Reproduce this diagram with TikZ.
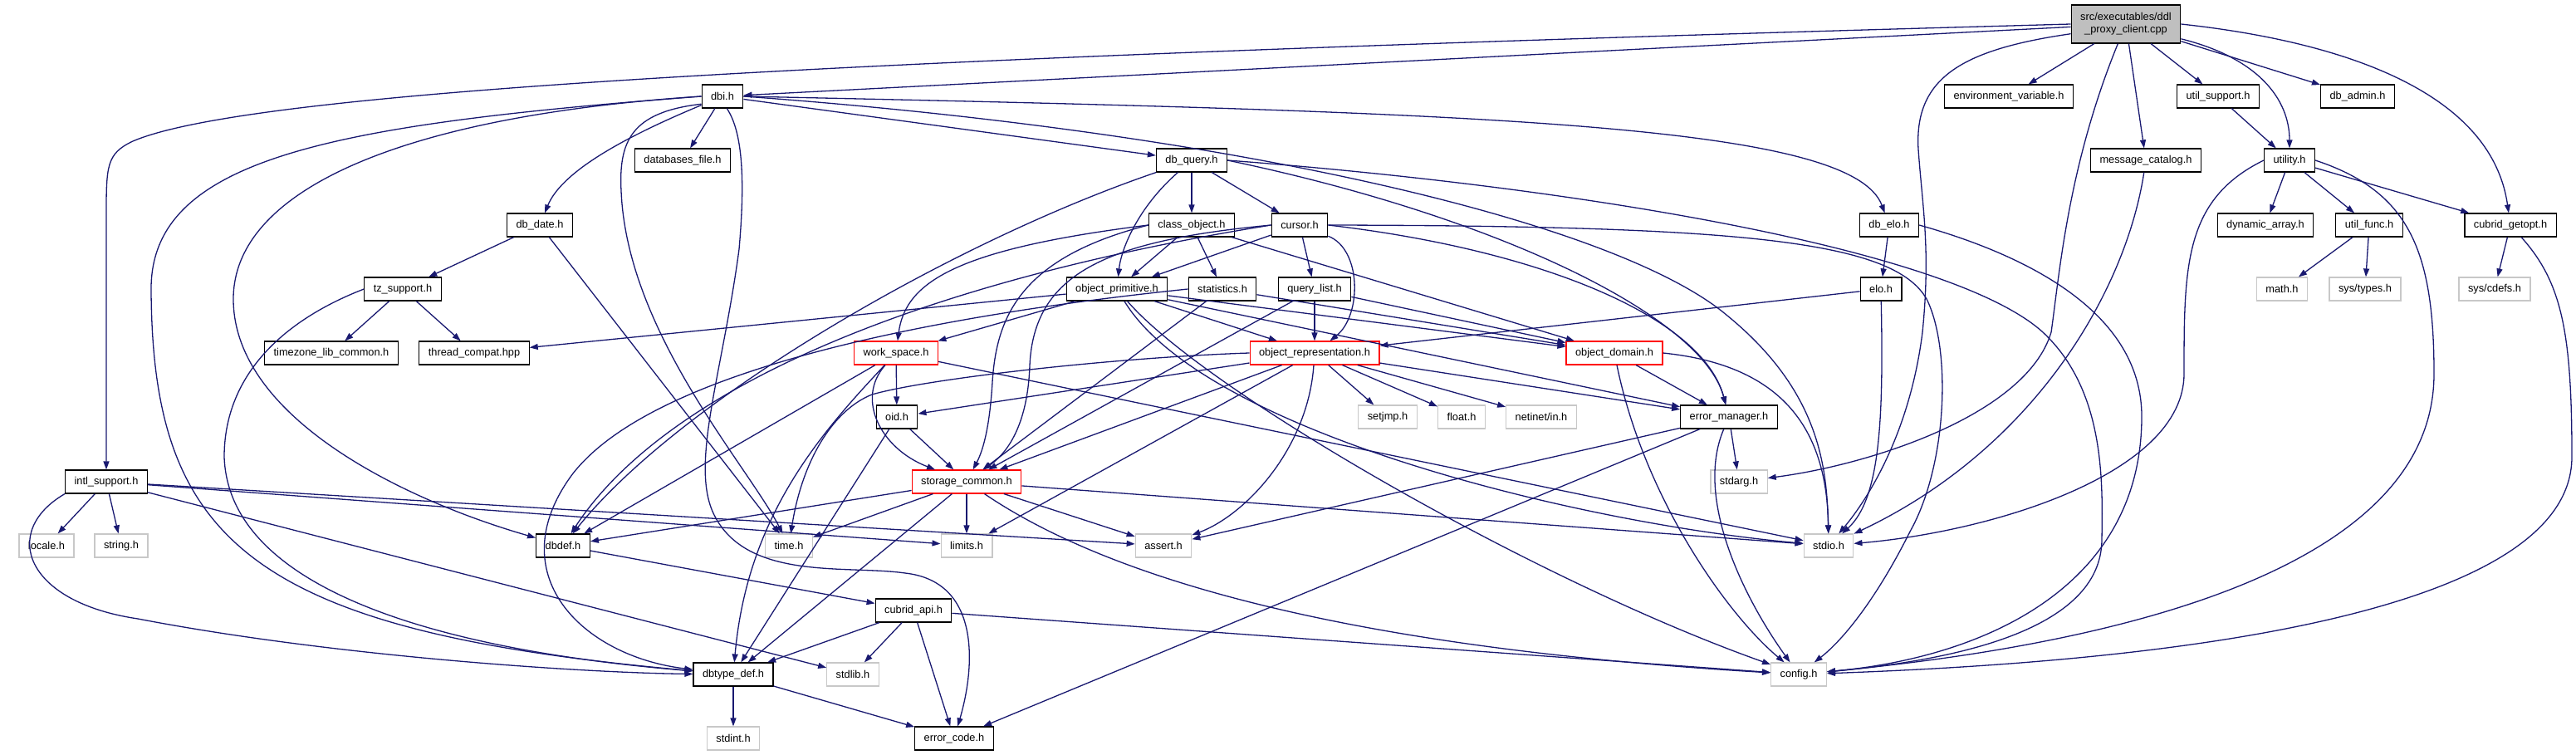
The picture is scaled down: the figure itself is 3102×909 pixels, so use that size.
\documentclass[tikz,border=0pt]{standalone}
\usepackage{fontspec}
\newfontfamily\hfont{Liberation Sans}
\usetikzlibrary{arrows.meta}
\definecolor{edgeblue}{HTML}{191970}
\definecolor{rootgray}{HTML}{BFBFBF}
\definecolor{sysgray}{HTML}{C8C8C8}
\newcommand{\hdrfont}{\hfont\fontsize{12.8pt}{15pt}\selectfont}

\begin{document}
\begin{tikzpicture}[x=1pt, y=-1pt,
    hdr/.style={draw=black, fill=white, line width=1.2pt, inner xsep=11pt, inner ysep=0pt, minimum height=28pt, font=\hdrfont},
    redhdr/.style={hdr, draw=red},
    syshdr/.style={hdr, draw=sysgray},
    rootnode/.style={hdr, fill=rootgray, align=center, minimum height=46pt},
    dep/.style={draw=edgeblue, line width=1.3pt, -{Triangle[length=10pt, width=7pt]}}]

\useasboundingbox (0,0) rectangle (3102,909);

% headers, row by row
\node[rootnode] (root) at (2560,29) {src/executables/ddl\\\_proxy\_client.cpp};

\node[hdr] (dbi) at (870,116) {dbi.h};
\node[hdr] (envvar) at (2419,116) {environment\_variable.h};
\node[hdr] (utilsupport) at (2671,116) {util\_support.h};
\node[hdr] (dbadmin) at (2839,116) {db\_admin.h};

\node[hdr] (databasesfile) at (822,193) {databases\_file.h};
\node[hdr] (dbquery) at (1435,193) {db\_query.h};
\node[hdr] (msgcat) at (2584,193) {message\_catalog.h};
\node[hdr] (utility) at (2757,193) {utility.h};

\node[hdr] (dbdate) at (650,271) {db\_date.h};
\node[hdr] (classobj) at (1435,271) {class\_object.h};
\node[hdr] (cursor) at (1565,271) {cursor.h};
\node[hdr] (dbelo) at (2275,271) {db\_elo.h};
\node[hdr] (dynarray) at (2728,271) {dynamic\_array.h};
\node[hdr] (utilfunc) at (2853,271) {util\_func.h};
\node[hdr] (getopt) at (3023,271) {cubrid\_getopt.h};

\node[hdr] (tzsupport) at (485,348) {tz\_support.h};
\node[hdr] (objprim) at (1345,348) {object\_primitive.h};
\node[hdr] (statistics) at (1472,348) {statistics.h};
\node[hdr] (querylist) at (1583,348) {query\_list.h};
\node[hdr] (elo) at (2265,348) {elo.h};
\node[syshdr] (math) at (2748,348) {math.h};
\node[syshdr] (systypes) at (2848,348) {sys/types.h};
\node[syshdr] (syscdefs) at (3004,348) {sys/cdefs.h};

\node[hdr] (tzlib) at (399,425) {timezone\_lib\_common.h};
\node[hdr] (threadcompat) at (571,425) {thread\_compat.hpp};
\node[redhdr] (workspace) at (1079,425) {work\_space.h};
\node[redhdr] (objrep) at (1583,425) {object\_representation.h};
\node[redhdr] (objdomain) at (1944,425) {object\_domain.h};

\node[hdr] (oid) at (1080,502) {oid.h};
\node[syshdr] (setjmp) at (1671,502) {setjmp.h};
\node[syshdr] (float) at (1760,502) {float.h};
\node[syshdr] (netinet) at (1856,502) {netinet/in.h};
\node[hdr] (errmgr) at (2082,502) {error\_manager.h};

\node[hdr] (intlsupport) at (128,580) {intl\_support.h};
\node[redhdr] (storagecommon) at (1164,580) {storage\_common.h};
\node[syshdr] (stdarg) at (2094,580) {stdarg.h};

\node[syshdr] (locale) at (56,657) {locale.h};
\node[syshdr] (string) at (146,657) {string.h};
\node[hdr] (dbdef) at (678,657) {dbdef.h};
\node[syshdr] (time) at (950,657) {time.h};
\node[syshdr] (limits) at (1164,657) {limits.h};
\node[syshdr] (assert) at (1401,657) {assert.h};
\node[syshdr] (stdio) at (2202,657) {stdio.h};

\node[hdr] (cubridapi) at (1100,735) {cubrid\_api.h};

\node[hdr] (dbtypedef) at (883,812) {dbtype\_def.h};
\node[syshdr] (stdlib) at (1027,812) {stdlib.h};
\node[syshdr] (config) at (2166,812) {config.h};

\node[syshdr] (stdint) at (883,889) {stdint.h};
\node[hdr] (errorcode) at (1149,889) {error\_code.h};

% straight includes
\foreach \src/\dst in {root/dbi, root/envvar, root/utilsupport, root/dbadmin, root/msgcat,
    dbi/databasesfile, dbi/dbquery, dbdate/tzsupport, dbdate/time,
    tzsupport/tzlib, tzsupport/threadcompat,
    dbquery/classobj, dbquery/cursor, classobj/objprim, classobj/statistics, classobj/objdomain,
    cursor/querylist, cursor/objprim,
    objprim/workspace, objprim/objrep, objprim/objdomain, objprim/errmgr, objprim/threadcompat,
    statistics/storagecommon, statistics/objdomain,
    querylist/storagecommon, querylist/objrep, querylist/objdomain,
    workspace/oid, workspace/dbdef, workspace/stdio,
    oid/storagecommon, oid/dbtypedef,
    objrep/oid, objrep/storagecommon, objrep/setjmp, objrep/float, objrep/netinet,
    objrep/errmgr, objrep/limits,
    objdomain/errmgr, errmgr/stdarg, errmgr/assert, errmgr/errorcode,
    storagecommon/dbdef, storagecommon/time, storagecommon/limits, storagecommon/assert,
    storagecommon/dbtypedef, storagecommon/stdio,
    intlsupport/locale, intlsupport/string, intlsupport/limits, intlsupport/assert, intlsupport/stdlib,
    dbdef/cubridapi, cubridapi/dbtypedef, cubridapi/stdlib, cubridapi/errorcode, cubridapi/config,
    dbtypedef/stdint, dbtypedef/errorcode,
    dbelo/elo, elo/objrep, utilsupport/utility,
    utility/dynarray, utility/utilfunc, utility/getopt,
    utilfunc/math, utilfunc/systypes, getopt/syscdefs}
  \draw[dep] (\src) -- (\dst);

% curved includes
\draw[dep] (root.west) .. controls (1000,70) and (300,110) .. (160,170) .. controls (128,185) and (128,200) .. (128,260) -- (intlsupport);
\draw[dep] (root.-15) .. controls (2720,70) and (2757,120) .. (utility);
\draw[dep] (root.east) .. controls (2820,50) and (3000,110) .. (getopt);
\draw[dep] (root.-170) .. controls (2360,60) and (2305,95) .. (2310,180) .. controls (2315,250) and (2325,300) .. (2315,400) .. controls (2300,520) and (2250,600) .. (stdio);
\draw[dep] (root) .. controls (2490,200) and (2480,330) .. (2470,400) .. controls (2440,500) and (2250,560) .. (stdarg);

\draw[dep] (dbi) .. controls (740,170) and (675,210) .. (dbdate);
\draw[dep] (dbi.east) .. controls (1800,135) and (2230,150) .. (dbelo);
\draw[dep] (dbi.west) .. controls (400,150) and (180,190) .. (182,350) .. controls (184,650) and (300,760) .. (dbtypedef);
\draw[dep] (dbi.west) .. controls (480,140) and (281,230) .. (281,360) .. controls (281,500) and (480,600) .. (dbdef);
\draw[dep] (dbi.200) .. controls (760,135) and (745,170) .. (748,230) .. controls (755,400) and (900,560) .. (time);
\draw[dep] (dbi.-70) .. controls (895,160) and (897,220) .. (890,300) .. controls (870,450) and (830,560) .. (860,620) .. controls (900,700) and (1020,680) .. (1090,690) .. controls (1180,700) and (1175,800) .. (errorcode);
\draw[dep] (dbi.east) .. controls (1500,160) and (1950,270) .. (2080,380) .. controls (2190,470) and (2200,560) .. (stdio);

\draw[dep] (dbquery.east) .. controls (1900,225) and (2350,300) .. (2460,400) .. controls (2535,470) and (2532,580) .. (2531,650) .. controls (2530,760) and (2350,795) .. (config);
\draw[dep] (dbquery.east) .. controls (1800,260) and (2050,380) .. (errmgr);
\draw[dep] (dbquery) .. controls (1370,250) and (1350,300) .. (objprim);
\draw[dep] (dbquery) .. controls (1150,290) and (820,480) .. (dbdef);

\draw[dep] (cursor.east) .. controls (2100,272) and (2280,290) .. (2320,360) .. controls (2350,420) and (2345,560) .. (2300,640) .. controls (2260,720) and (2220,770) .. (config);
\draw[dep] (cursor.east) .. controls (1850,300) and (2050,380) .. (errmgr);
\draw[dep] (cursor) .. controls (1640,300) and (1640,380) .. (objrep);
\draw[dep] (cursor.west) .. controls (1330,290) and (1245,330) .. (1240,440) .. controls (1238,500) and (1220,540) .. (storagecommon);
\draw[dep] (cursor.west) .. controls (1100,340) and (800,470) .. (dbdef);

\draw[dep] (classobj.west) .. controls (1150,300) and (1090,340) .. (workspace);
\draw[dep] (classobj.west) .. controls (1230,310) and (1200,380) .. (1195,460) .. controls (1192,510) and (1185,540) .. (storagecommon);

\draw[dep] (objprim) .. controls (1450,470) and (1850,700) .. (config);
\draw[dep] (objprim) .. controls (1450,520) and (1900,630) .. (stdio);
\draw[dep] (statistics.west) .. controls (1200,372) and (800,430) .. (690,570) .. controls (600,690) and (700,790) .. (dbtypedef);

\draw[dep] (workspace) .. controls (1030,480) and (1060,540) .. (storagecommon);
\draw[dep] (workspace) .. controls (990,520) and (900,620) .. (dbtypedef);

\draw[dep] (objrep) .. controls (1575,540) and (1500,620) .. (assert);
\draw[dep] (objrep.west) .. controls (1350,430) and (1120,455) .. (1050,475) .. controls (1000,495) and (965,560) .. (time);
\draw[dep] (objdomain.east) .. controls (2150,440) and (2200,520) .. (stdio);
\draw[dep] (objdomain) .. controls (1980,600) and (2080,740) .. (config);
\draw[dep] (errmgr) .. controls (2040,600) and (2100,720) .. (config);
\draw[dep] (storagecommon) .. controls (1400,740) and (1800,790) .. (config);

\draw[dep] (intlsupport.south west) .. controls (0,640) and (30,725) .. (166,745) .. controls (400,790) and (700,810) .. (dbtypedef);
\draw[dep] (tzsupport.west) .. controls (330,390) and (270,460) .. (270,550) .. controls (275,700) and (500,780) .. (dbtypedef);

\draw[dep] (dbelo.east) .. controls (2450,310) and (2578,380) .. (2579,500) .. controls (2580,700) and (2400,790) .. (config);
\draw[dep] (elo) .. controls (2268,500) and (2265,600) .. (stdio);
\draw[dep] (msgcat) .. controls (2560,350) and (2450,540) .. (stdio);
\draw[dep] (utility.west) .. controls (2630,240) and (2630,320) .. (2630,450) .. controls (2630,570) and (2400,640) .. (stdio);
\draw[dep] (utility.east) .. controls (2900,230) and (2931,300) .. (2931,450) .. controls (2931,700) and (2500,780) .. (config);
\draw[dep] (getopt) .. controls (3085,340) and (3097,400) .. (3097,550) .. controls (3097,760) and (2500,800) .. (config);
\end{tikzpicture}
\end{document}
